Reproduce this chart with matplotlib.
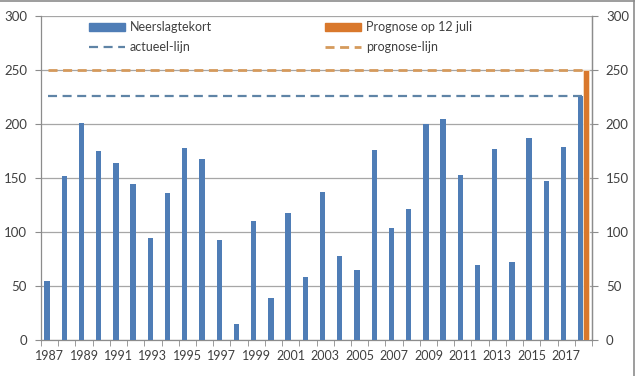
import matplotlib
matplotlib.use("Agg")
import matplotlib.pyplot as plt
from matplotlib.lines import Line2D
from matplotlib.patches import Patch
import numpy as np

plt.rcParams['font.family'] = ['Lato', 'DejaVu Sans']
plt.rcParams['lines.scale_dashes'] = False

years = list(range(1987, 2019))
neerslagtekort = [55, 152, 201, 175, 164, 144, 94, 136, 178, 168, 93, 15,
                  110, 39, 118, 58, 137, 78, 65, 176, 104, 121, 200, 205,
                  153, 69, 177, 72, 187, 147, 179, 226]
prognose = [0] * 31 + [250]
actueel_lijn = 226
prognose_lijn = 250
tick_labels = [str(y) for y in years]

blue = '#4F7DB6'
orange = '#D9782C'
blue_dash = '#5F84A6'
orange_dash = '#D59A5C'
txt = '#404040'
axcol = '#8C8C8C'

fig = plt.figure(figsize=(6.38, 3.76), dpi=100)
ax = fig.add_axes([41/638, 1-340/376, (592-41)/638, (340-16)/376])

x = np.arange(len(years))
w = 0.31
ax.bar(x - 0.15, neerslagtekort, width=w, color=blue, zorder=3)
ax.bar(x + 0.16, prognose, width=w, color=orange, edgecolor='#F6E3C8', linewidth=0.6, zorder=3)
ax.plot([x[0] - 0.1, x[-1] - 0.1], [actueel_lijn] * 2, color=blue_dash, lw=1.6,
        dashes=(6.5, 4.0), zorder=4)
ax.plot([x[0] - 0.1, x[-1] + 0.08], [prognose_lijn] * 2, color=orange_dash, lw=2.0,
        dashes=(6.5, 4.0), zorder=4)

ax.set_xlim(-0.5, len(years) - 0.5)
ax.set_ylim(0, 300)
ax.set_yticks(range(0, 301, 50))
ax.yaxis.grid(True, color='#A6A6A6', lw=0.9, zorder=0)
ax.set_axisbelow(True)

ax.set_xticks(x[::2])
ax.set_xticklabels(tick_labels[::2])
ax.set_xticks(np.arange(-0.5, len(years)), minor=True)
ax.tick_params(axis='x', which='major', length=0, pad=7, labelsize=9, colors=txt)
ax.tick_params(axis='x', which='minor', length=4, color=axcol, direction='out')
ax.tick_params(axis='y', length=4, color=axcol, labelsize=9.5, labelcolor=txt, pad=6)

for s in ['top']:
    ax.spines[s].set_visible(False)
for s in ['left', 'bottom', 'right']:
    ax.spines[s].set_color(axcol)
    ax.spines[s].set_linewidth(0.9)

ax2 = ax.twinx()
ax2.set_ylim(0, 300)
ax2.set_yticks(range(0, 301, 50))
ax2.tick_params(axis='y', length=4, color=axcol, labelsize=9.5, labelcolor=txt, pad=6)
for s in ['top', 'left', 'bottom']:
    ax2.spines[s].set_visible(False)
ax2.spines['right'].set_color(axcol)
ax2.spines['right'].set_linewidth(0.9)

handles = [Patch(color=blue), Line2D([], [], color=blue_dash, lw=1.6, dashes=(6.5, 4.0)),
           Patch(color=orange), Line2D([], [], color=orange_dash, lw=2.0, dashes=(6.5, 4.0))]
labels = ['Neerslagtekort', 'actueel-lijn', 'Prognose op 12 juli', 'prognose-lijn']
leg = ax.legend(handles, labels, ncol=2, loc='upper left',
                bbox_to_anchor=((80 - 41) / 551, 1.0 + 3.5 / 324), frameon=False,
                fontsize=9, handlelength=2.9, handleheight=0.55, handletextpad=0.4,
                columnspacing=9.0, labelspacing=0.6, borderpad=0.2)
for t in leg.get_texts():
    t.set_color(txt)

# chart-area border
fig.add_artist(Line2D([0, 634/638], [1 - 0.5/376, 1 - 0.5/376], color='#8C8C8C', lw=1.2,
                      transform=fig.transFigure))
fig.add_artist(Line2D([634/638, 634/638], [0, 1], color='#8C8C8C', lw=1.2,
                      transform=fig.transFigure))

fig.savefig('out.png', dpi=100)
